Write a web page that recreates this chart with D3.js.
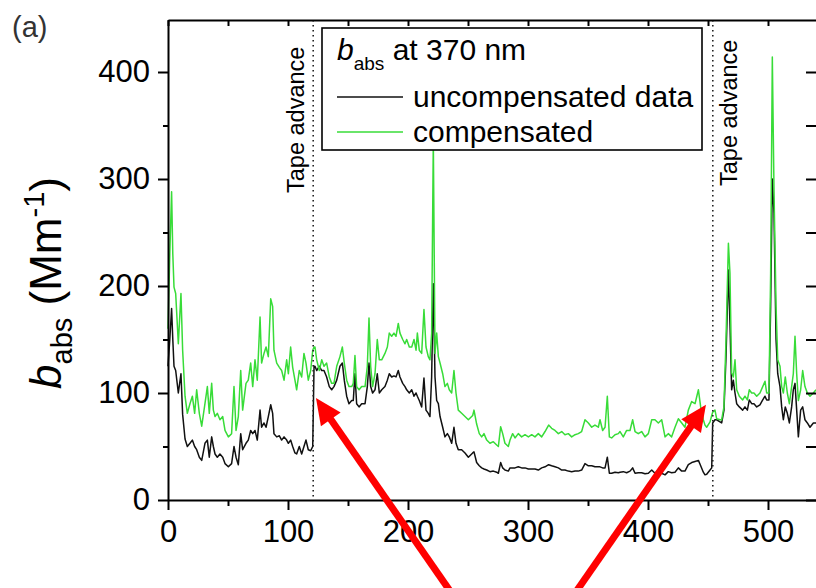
<!DOCTYPE html>
<html>
<head>
<meta charset="utf-8">
<script src="https://cdnjs.cloudflare.com/ajax/libs/d3/7.8.5/d3.min.js"></script>
<style>
  html, body { margin: 0; padding: 0; background: #fff; }
  svg { display: block; font-family: "Liberation Sans", Arial, sans-serif; }
</style>
</head>
<body>
<svg id="chart" width="816" height="588"></svg>
<script>
// ---------------- DATA ----------------
const time = [
  0,1.5,3,4,5,6.4,8.6,10.8,12.2,14.2,16.1,18.3,20.3,22.2,23.9,26.1,28.1,30.8,32.8,34.4,
  36.4,37.8,39.2,41.1,43.3,45.6,47.5,50.3,53,55,56.7,58.6,60.6,62.2,65,66.9,68.9,70.6,72.5,74.4,
  76.7,78,80,81.7,83.6,85.6,87.2,88.3,90.6,92.8,94.7,96.7,98.9,100.3,102.2,103.9,105.8,107.2,109.4,111.4,
  113.3,115,116.9,118.9,120.6,121.7,122.5,123.9,126.1,128.1,130,132.2,134.4,136.4,138.3,140.6,143.3,145.3,146.9,148.9,
  150.8,153.1,154.4,155.8,157.2,159.2,161.4,164.2,166.1,167.5,168.9,170.5,172.5,174.4,176.1,178.1,180.8,182.8,184.4,186.4,
  188.3,190,191.9,193.3,195.6,197.5,198.9,201.1,203.1,205,206.7,207.8,209.4,211.4,213.3,215,216.9,218.3,219.7,221.1,
  222.5,223.9,225.3,226.7,228.9,230.8,232.8,234.4,236.4,238.3,240,241.9,244.7,247.5,250.3,253.9,255,257.2,259.4,261.4,
  263.3,265.6,268.3,271.1,273.9,275.3,277.2,278.9,280.8,283.6,285,287.2,289.2,291.9,294.7,297.5,300.3,303.1,305.8,308.6,
  311.4,314.2,317.2,319.7,322.5,325.3,328.1,330.8,333.6,336.4,339.2,341.9,344.7,347.5,350.3,353.1,355.8,358.6,360,362.2,
  364.2,366.1,367.8,369.7,372.5,375.3,376.7,379.4,382.2,385,387.2,389.2,391.9,394.7,397.5,400.3,403.1,405.8,408.6,411.4,
  414.2,416.9,419.7,422.5,425.3,428.1,430.8,433.6,436.4,439.2,442,443.9,446.1,447.5,448.9,451.7,453.1,453.9,455.8,457.2,
  460,461.4,463.3,465,467,468.3,469.7,471.1,472.5,473.9,476.1,478.9,480.8,482.8,484.4,486.4,488.3,490.6,493.3,495.6,
  497.5,498.9,500.8,502.2,503.6,505,506.7,508.1,510,511.4,512.8,514.4,516.1,517.8,519.7,521.1,522.5,523.9,525.3,527.2,
  528.9,530.8,532.8,535,537.8,540
];
const uncompensated = [
  125,150,179,150,125,121,100,118,80,57,50,53,56,50,47,40,37,53,56,40,
  59,50,43,40,43,40,34,31,34,50,40,33,62,47,53,56,65,62,65,56,
  84,68,72,68,78,89,81,62,59,60,56,59,56,53,56,50,44,43,50,43,
  50,56,47,46,50,125,125,121,125,121,121,115,106,103,106,112,125,128,112,97,
  90,93,93,118,90,87,90,90,106,128,106,100,103,118,100,103,106,112,118,115,
  116,115,121,115,109,106,103,100,103,97,100,97,93,87,114,84,81,78,115,202,
  115,93,90,78,68,59,62,59,53,68,53,47,47,44,40,44,45,35,32,30,
  29,28,26.5,27,26,25,35,30,28,27,30,30,30,31,30,30,29,29,29,28,
  30,31,33,32,31,30,28,28,27,26.5,27,27,28,34,32,32,31,31,31,30,
  30,40,25,25,26,25.5,26,26.5,25.5,27,30,25,25.5,25.5,24.5,25,28,25,28,25,
  23.5,26.5,25.5,26,30,27,27,33,35,36,37,32,26,23.5,24,28,30,72,75,75,
  73,72,84,134,215,165,103,112,100,90,87,84,87,84,93.5,90,90,87,89,93.5,
  97,93.5,93.5,181,300,268,150,118,106,87,75,87,81,72,87,103,109,84,59,84,
  87,75,72,68,72,72
];
const compensated = [
  160,230,288,230,199,193,146,193,140,97,81,90,97,81,103,81,69,90,106,81,
  109,84,78,81,75,78,65,59,62,106,65,78,121,84,109,112,128,106,131,112,
  171,128,137,143,134,188,181,140,128,124,121,112,131,118,143,124,112,103,121,115,
  137,128,112,121,140,143,143,131,121,131,125,128,115,109,109,125,134,143,128,112,
  106,106,109,135,106,103,106,106,125,170,125,106,118,150,131,131,137,143,156,153,
  156,153,165,156,150,146,150,143,143,150,140,156,140,137,178,143,134,131,156,336,
  137,156,134,128,118,106,109,103,100,121,100,84,81,78,75,79,84,71,62,59,
  62,56,53,54.5,51.4,50,68.5,62,53,50,56,62,58,62,59,61,59,61,59,62,
  59,64,70,67,65,62,64,61,62,59,61,62,64,75,72,68,70,68,75,65,
  68,97,59,58,61,62,64,59,65,65,75,64,62,64,59,62,75,75,72,75,
  59,62,59,68,76,72,68,84,92,90,103,87,75,70,68,73,79,82,84,76,
  75,75,87,150,240,212,119,115,131,103,97,93.5,97,93.5,103,100,100,97,100,106,
  111,100,100,212,414,290,181,131,125,106,100,115,100,90,106,118,153,118,93,103,
  121,106,100,97,100,103
];
const xMajorTicks = [0, 100, 200, 300, 400, 500];
const xMinorTicks = [50, 150, 250, 350, 450];
const yMajorTicks = [0, 100, 200, 300, 400];
const yMinorTicks = [50, 150, 250, 350];
const frameTicks = [0, 50, 100, 150, 200, 250, 300, 350, 400, 450, 500];
const tapeAdvance = [121, 454];
const seriesNames = ["uncompensated data", "compensated"];
const seriesColors = ["#111111", "#38dc38"];
// annotation arrows, in data units: [tailTime, tailValue, tipTime, tipValue]
const arrows = [[235, -85, 123.3, 95.3], [340.5, -85, 448.3, 89]];

// ---------------- CHART ----------------
const svg = d3.select("#chart");
svg.append("rect").attr("width", 816).attr("height", 588).attr("fill", "#fff");

const L = 168, T = 20, B = 500;
const x = d3.scaleLinear().domain([0, 545]).range([L, L + 1.2 * 545]);
const y = d3.scaleLinear().domain([0, 448.6]).range([B, T]);
const R = x(545);

const tickFont = 31;

// data lines
const line = d3.line().x((d, i) => x(time[i])).y(d => y(d));
svg.append("path").datum(uncompensated).attr("d", line)
  .attr("fill", "none").attr("stroke", seriesColors[0]).attr("stroke-width", 1.5)
  .attr("stroke-linejoin", "round");
svg.append("path").datum(compensated).attr("d", line)
  .attr("fill", "none").attr("stroke", seriesColors[1]).attr("stroke-width", 1.5)
  .attr("stroke-linejoin", "round");

// tape-advance dotted lines
svg.selectAll(".tape").data(tapeAdvance).enter().append("line")
  .attr("x1", d => x(d)).attr("x2", d => x(d)).attr("y1", T).attr("y2", B)
  .attr("stroke", "#222").attr("stroke-width", 1.6).attr("stroke-dasharray", "1.6,3.4");

// tape advance labels
svg.append("text").attr("transform", `translate(${x(tapeAdvance[0]) - 9},${193}) rotate(-90)`)
  .attr("font-size", 23.5).attr("fill", "#000").text("Tape advance");
svg.append("text").attr("transform", `translate(${x(tapeAdvance[1]) + 24},${186}) rotate(-90)`)
  .attr("font-size", 23.5).attr("fill", "#000").text("Tape advance");

// axes
function styleAxis(g) {
  g.selectAll(".domain").attr("stroke", "#000").attr("stroke-width", 2);
  g.selectAll(".tick line").attr("stroke", "#000").attr("stroke-width", 2);
}
// bottom
const gx = svg.append("g").attr("transform", `translate(0,${B})`)
  .call(d3.axisBottom(x).tickValues(xMajorTicks).tickSize(10).tickSizeOuter(0).tickPadding(10)
    .tickFormat(d3.format("d")));
styleAxis(gx);
gx.selectAll("text").attr("font-size", tickFont).attr("fill", "#000")
  .attr("font-family", "Liberation Sans, Arial, sans-serif");
svg.append("g").attr("transform", `translate(0,${B})`)
  .call(d3.axisBottom(x).tickValues(xMinorTicks).tickSize(6).tickSizeOuter(0).tickFormat(""))
  .call(styleAxis).select(".domain").remove();
// left
const gy = svg.append("g").attr("transform", `translate(${L},0)`)
  .call(d3.axisLeft(y).tickValues(yMajorTicks).tickSize(10).tickSizeOuter(0).tickPadding(8)
    .tickFormat(d3.format("d")));
styleAxis(gy);
gy.selectAll("text").attr("font-size", tickFont).attr("fill", "#000")
  .attr("font-family", "Liberation Sans, Arial, sans-serif");
svg.append("g").attr("transform", `translate(${L},0)`)
  .call(d3.axisLeft(y).tickValues(yMinorTicks).tickSize(5).tickSizeOuter(0).tickFormat(""))
  .call(styleAxis).select(".domain").remove();
// top (inward ticks)
svg.append("g").attr("transform", `translate(0,${T})`)
  .call(d3.axisTop(x).tickValues(frameTicks).tickSize(-6).tickSizeOuter(0).tickFormat(""))
  .call(styleAxis);
// right (inward ticks)
svg.append("g").attr("transform", `translate(${R},0)`)
  .call(d3.axisRight(y).tickValues(frameTicks.filter(v => v <= 448)).tickSize(-16).tickSizeOuter(0).tickFormat(""))
  .call(styleAxis);

// y axis title
const yt = svg.append("text")
  .attr("transform", `translate(61,${283}) rotate(-90)`)
  .attr("text-anchor", "middle").attr("font-size", 44).attr("fill", "#000");
yt.append("tspan").attr("font-style", "italic").text("b");
yt.append("tspan").attr("font-size", 29).attr("dy", 11).text("abs");
yt.append("tspan").attr("dy", -11).text("\u00a0(Mm");
yt.append("tspan").attr("font-size", 29).attr("dy", -17).text("-1");
yt.append("tspan").attr("dy", 17).text(")");

// panel label
svg.append("text").attr("x", 12).attr("y", 37).attr("font-size", 29).attr("fill", "#333").text("(a)");

// legend
const lg = svg.append("g");
lg.append("rect").attr("x", 322).attr("y", 28).attr("width", 380).attr("height", 122)
  .attr("fill", "#fff").attr("stroke", "#000").attr("stroke-width", 1.6);
const lt = lg.append("text").attr("x", 337).attr("y", 60).attr("font-size", 30).attr("fill", "#000");
lt.append("tspan").attr("font-style", "italic").text("b");
lt.append("tspan").attr("font-size", 19).attr("dy", 10).text("abs");
lt.append("tspan").attr("dy", -10).text("\u00a0at 370 nm");
seriesNames.forEach((name, i) => {
  const ly = 97 + i * 35;
  lg.append("line").attr("x1", 337).attr("x2", 403).attr("y1", ly).attr("y2", ly)
    .attr("stroke", seriesColors[i]).attr("stroke-width", 1.6);
  lg.append("text").attr("x", 413).attr("y", ly + 10).attr("font-size", 30).attr("fill", "#000").text(name);
});

// red annotation arrows
arrows.forEach(a => {
  const x0 = x(a[0]), y0 = y(a[1]), x1 = x(a[2]), y1 = y(a[3]);
  const dx = x1 - x0, dy = y1 - y0, len = Math.hypot(dx, dy);
  const ux = dx / len, uy = dy / len, px = -uy, py = ux;
  const headL = 26, headW = 12;
  const bx = x1 - ux * headL, by = y1 - uy * headL;
  svg.append("line").attr("x1", x0).attr("y1", y0).attr("x2", bx + ux * 2).attr("y2", by + uy * 2)
    .attr("stroke", "#ff0000").attr("stroke-width", 7);
  svg.append("path")
    .attr("d", `M${x1},${y1}L${bx + px * headW},${by + py * headW}L${bx - px * headW},${by - py * headW}Z`)
    .attr("fill", "#ff0000");
});
</script>
</body>
</html>
